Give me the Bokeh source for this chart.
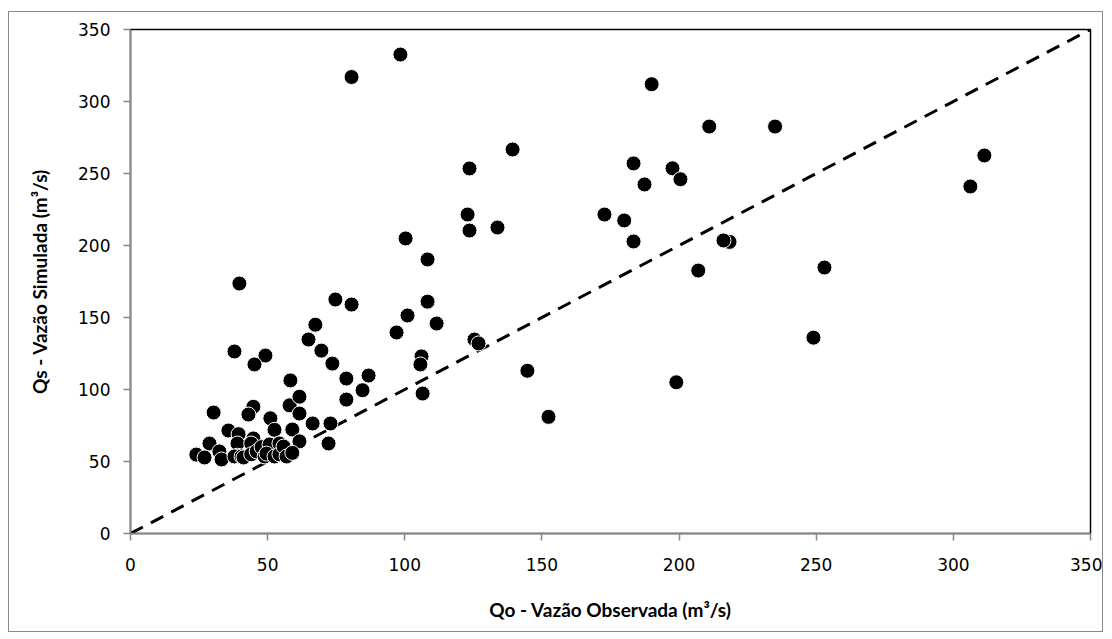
from bokeh.plotting import figure
from bokeh.models import FixedTicker, Range1d
from bokeh.embed import file_html
from bokeh.resources import INLINE

# Observed discharge (Qo) and simulated discharge (Qs), m3/s
qo = [98.4, 80.6, 190.0, 211.0, 235.0, 311.3, 306.2, 253.0, 249.0, 199.0,
      152.4, 144.7, 183.4, 187.4, 197.6, 200.5, 172.8, 180.0, 183.4, 218.4,
      216.2, 207.0, 139.3, 123.6, 122.9, 123.6, 133.8, 100.3, 108.3, 108.3,
      101.0, 111.6, 97.0, 125.4, 126.9, 106.1, 105.7, 106.5, 39.7, 74.7,
      80.6, 67.4, 64.9, 69.6, 73.6, 37.9, 49.2, 45.2, 58.3, 78.7,
      86.8, 84.6, 78.7, 30.3, 44.8, 43.0, 51.0, 52.5, 58.0, 61.6,
      61.6, 66.4, 72.9, 72.2, 59.0, 61.6, 35.7, 39.4, 28.8, 32.4,
      24.0, 27.0, 33.2, 39.0, 39.0, 44.8, 44.0, 37.9, 40.5, 41.2,
      44.0, 46.0, 47.8, 48.9, 50.7, 49.6, 52.5, 54.3, 54.3, 55.8,
      56.9, 59.0]
qs = [332.6, 317.0, 312.0, 282.6, 282.6, 262.5, 241.0, 184.7, 136.0, 105.0,
      81.0, 113.0, 257.0, 242.4, 253.6, 246.0, 221.5, 217.4, 202.8, 202.5,
      203.5, 182.6, 266.7, 253.5, 221.5, 210.4, 212.5, 204.9, 190.3, 161.0,
      151.4, 145.8, 139.6, 134.7, 132.0, 123.0, 117.4, 97.2, 173.6, 162.5,
      159.0, 145.0, 134.7, 127.0, 118.0, 126.4, 123.6, 117.4, 106.3, 107.6,
      109.7, 99.5, 93.0, 84.0, 88.0, 82.6, 80.0, 72.0, 89.0, 95.0,
      83.3, 76.4, 76.4, 62.5, 72.2, 64.0, 71.5, 69.0, 62.5, 57.0,
      54.8, 52.8, 51.4, 62.5, 54.0, 66.0, 62.5, 53.5, 53.5, 52.8,
      55.0, 57.0, 60.0, 53.5, 61.8, 55.5, 53.5, 62.5, 55.0, 60.4,
      53.5, 56.0]
line_x = [0, 350]
line_y = [0, 350]
ticks = [0, 50, 100, 150, 200, 250, 300, 350]

p = figure(width=1095, height=621, output_backend="svg", toolbar_location=None,
           x_range=Range1d(0, 350), y_range=Range1d(0, 350),
           min_border_left=121, min_border_right=14, min_border_top=17,
           min_border_bottom=100)
p.styles = {"border": "1px solid #898989", "box-sizing": "border-box",
            "margin-left": "8px", "margin-top": "11px"}
p.grid.visible = False
p.outline_line_color = "black"
p.outline_line_width = 1.5
p.background_fill_color = "white"
p.border_fill_color = "white"

p.line(line_x, line_y, line_color="black", line_width=3, line_dash="14 9")
p.scatter(qo, qs, size=15, fill_color="black", line_color="white", line_width=1)

for ax in (p.xaxis[0], p.yaxis[0]):
    ax.ticker = FixedTicker(ticks=ticks)
    ax.minor_tick_line_color = None
    ax.axis_line_color = "#868686"
    ax.axis_line_width = 1.5
    ax.major_tick_line_color = "#868686"
    ax.major_tick_line_width = 1.5
    ax.major_tick_in = 0
    ax.major_tick_out = 7
    ax.major_label_text_font = "DejaVu Sans"
    ax.major_label_text_font_size = "17px"
    ax.major_label_text_color = "black"
    ax.axis_label_text_font = "Lato"
    ax.axis_label_text_font_style = "bold"
    ax.axis_label_text_font_size = "19px"
    ax.axis_label_text_color = "black"

p.xaxis.axis_label = "Qo - Vazão Observada (m³/s)"
p.yaxis.axis_label = "Qs - Vazão Simulada (m³/s)"
p.xaxis.major_label_standoff = 17
p.yaxis.major_label_standoff = 13
p.xaxis.axis_label_standoff = 24
p.yaxis.axis_label_standoff = 24

open("out.html", "w").write(file_html(p, INLINE))
